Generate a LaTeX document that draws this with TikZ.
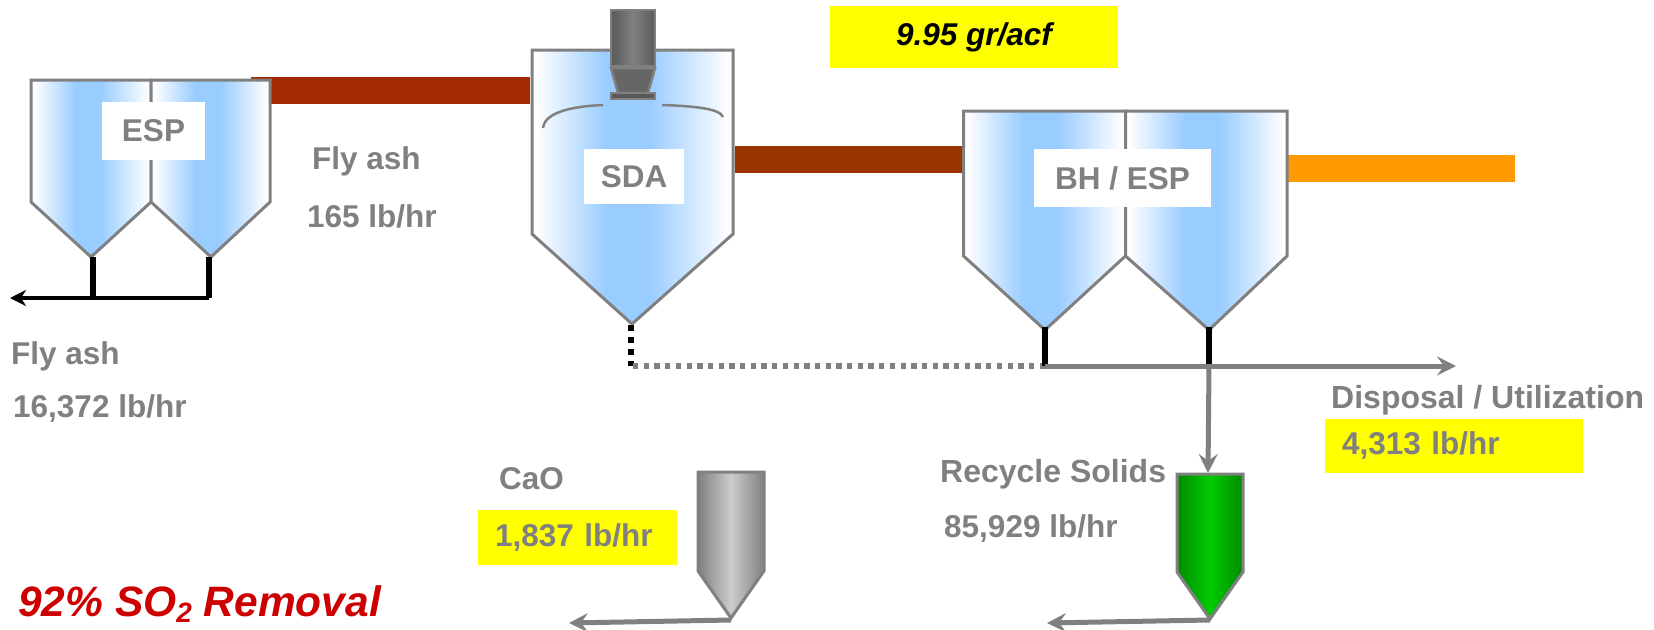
\documentclass[tikz,border=0pt]{standalone}
\usepackage{fontspec}
\setmainfont{Liberation Sans}
\usepackage{xcolor}
\usetikzlibrary{arrows.meta, positioning}
\definecolor{linegray}{HTML}{808080}
\definecolor{siloblue}{HTML}{99CCFF}
\definecolor{ductred}{HTML}{A32A00}
\definecolor{ductbrown}{HTML}{993300}
\definecolor{ductorange}{HTML}{FF9900}
\definecolor{limegreen}{HTML}{00CC00}
\definecolor{darkgreen}{HTML}{008A00}
\definecolor{redtext}{HTML}{CC0000}
\definecolor{flagyellow}{HTML}{FFFF00}
\pgfdeclarehorizontalshading{silofade}{100bp}{color(0bp)=(white); color(26bp)=(white); color(43.5bp)=(siloblue); color(54bp)=(siloblue); color(74bp)=(white); color(100bp)=(white)}

\begin{document}
\begin{tikzpicture}[x=1pt, y=-1pt,
        silo/.style={draw=linegray, line width=3pt, line join=miter, shading=silofade},
        duct/.style={line width=27pt},
        stem/.style={draw=black, line width=6pt},
        flow/.style={draw=linegray, line width=5pt, -{Stealth[length=19pt,width=19pt,inset=7pt]}},
        label/.style={anchor=base west, inner sep=0pt, text=linegray, font=\fontsize{31.5}{36}\selectfont\bfseries},
        tag/.style={fill=white, inner sep=0pt, text=linegray, font=\fontsize{31.5}{36}\selectfont\bfseries},
        flag/.style={fill=flagyellow, inner ysep=0pt, inner xsep=17pt, minimum height=54pt, align=left, text=linegray, font=\fontsize{31.5}{36}\selectfont\bfseries}]
    \useasboundingbox (0, 0) rectangle (1654, 629);

    \coordinate (duct1a) at (251, 90);
    \coordinate (duct1b) at (530, 90);
    \coordinate (duct2a) at (735, 159.5);
    \coordinate (duct2b) at (962, 159.5);
    \coordinate (duct3a) at (1288, 168.5);
    \coordinate (duct3b) at (1515, 168.5);
    \coordinate (esptipl) at (93, 257);
    \coordinate (esptipr) at (209, 257);
    \coordinate (espjoinl) at (93, 298);
    \coordinate (espjoinr) at (209, 298);
    \coordinate (espout) at (10, 298);
    \coordinate (sdatip) at (631, 325);
    \coordinate (sdacorner) at (631, 366);
    \coordinate (sdajoin) at (633, 366);
    \coordinate (bhtipl) at (1045, 327);
    \coordinate (bhtipr) at (1209, 327);
    \coordinate (bhjoinl) at (1045, 366);
    \coordinate (bhjoinr) at (1209, 366);
    \coordinate (dispout) at (1456, 366);
    \coordinate (recycle) at (1208, 473);
    \coordinate (caotip) at (731, 620);
    \coordinate (caoout) at (569, 623);
    \coordinate (greentip) at (1210, 620);
    \coordinate (greenout) at (1047, 623);

    \draw[duct, ductred] (duct1a) -- (duct1b);
    \draw[duct, ductbrown] (duct2a) -- (duct2b);
    \draw[duct, ductorange] (duct3a) -- (duct3b);

    % ESP
    \path[silo] (31, 80) -- (151, 80) -- (151, 202) -- (91, 257) -- (31, 202) -- cycle;
    \path[silo] (151, 80) -- (270, 80) -- (270, 202) -- (211, 257) -- (151, 202) -- cycle;
    % SDA
    \path[silo] (532, 50) -- (733, 50) -- (733, 234) -- (632, 324) -- (532, 234) -- cycle;
    % BH / ESP
    \path[silo] (963.5, 111) -- (1125.5, 111) -- (1125.5, 256) -- (1045, 330) -- (963.5, 256) -- cycle;
    \path[silo] (1125.5, 111) -- (1287, 111) -- (1287, 256) -- (1209, 330) -- (1125.5, 256) -- cycle;

    % nozzle
    \path[draw=linegray, line width=2.5pt, left color=black!65, right color=black!65, middle color=linegray] (611, 10) rectangle (655, 66);
    \path[draw=linegray, line width=2.5pt, fill=black!60] (611, 68) -- (655, 68) -- (648, 93) -- (618, 93) -- cycle;
    \path[draw=linegray, line width=2.5pt, fill=black!65] (611, 93) rectangle (655, 99);
    \draw[linegray, line width=2.5pt] (543, 128) .. controls (545, 110) and (580, 106) .. (603, 105);
    \draw[linegray, line width=2.5pt] (662, 105) .. controls (690, 106) and (720, 108) .. (723, 117);

    % hoppers
    \path[draw=linegray, line width=3pt, left color=linegray, right color=linegray, middle color=black!20] (698, 472) -- (764, 472) -- (764, 571) -- (731, 618) -- (698, 571) -- cycle;
    \path[draw=linegray, line width=3pt, left color=darkgreen, right color=darkgreen, middle color=limegreen] (1177, 474) -- (1243, 474) -- (1243, 572) -- (1210, 619) -- (1177, 572) -- cycle;

    % solids lines
    \draw[stem] (esptipl) -- (espjoinl);
    \draw[stem] (esptipr) -- (espjoinr);
    \draw[black, line width=4pt, -{Stealth[length=16pt,width=16pt,inset=5pt]}] (espjoinr) -- (espout);
    \draw[black, line width=6pt, dash pattern=on 6pt off 6pt] (sdatip) -- (sdacorner);
    \draw[linegray, line width=5.3pt, dash pattern=on 5.3pt off 5.4pt] (sdajoin) -- (bhjoinl);
    \draw[stem] (bhtipl) -- (bhjoinl);
    \draw[stem] (bhtipr) -- (bhjoinr);
    \draw[flow] (bhjoinl) -- (dispout);
    \draw[flow] (bhjoinr) -- (recycle);
    \draw[flow] (caotip) -- (caoout);
    \draw[flow] (greentip) -- (greenout);

    \node[tag, minimum width=103pt, minimum height=58pt] (esp) at (153.5, 131) {ESP};
    \node[tag, minimum width=100pt, minimum height=55pt] (sda) at (634, 176.5) {SDA};
    \node[tag, minimum width=177pt, minimum height=58pt] (bh) at (1122.5, 178) {BH / ESP};

    \node[label] (flyash1) at (312, 169) {Fly ash};
    \node[label] (rate1) at (307, 227) {165 lb/hr};
    \node[label] (flyash2) at (11, 364) {Fly ash};
    \node[label] (rate2) at (13, 417) {16,372 lb/hr};
    \node[label] (cao) at (499, 489) {CaO};
    \node[label, font=\fontsize{32}{36}\selectfont\bfseries] (solids) at (940, 482) {Recycle Solids};
    \node[label] (rate3) at (944, 537) {85,929 lb/hr};
    \node[label, font=\fontsize{32}{36}\selectfont\bfseries] (disposal) at (1331, 408) {Disposal / Utilization};

    \node[flag, minimum height=55pt, text width=165pt] (rate4) at (577.5, 537.5) {1,837 lb/hr};
    \node[flag, text width=224pt] (rate5) at (1454, 446) {4,313 lb/hr};
    \node[fill=flagyellow, minimum width=288pt, minimum height=62pt, inner sep=0pt, font=\fontsize{31.5}{36}\selectfont\bfseries\itshape] (grain) at (974, 37) {9.95 gr/acf};
    \node[anchor=base west, inner sep=0pt, text=redtext, font=\fontsize{42.5}{48}\selectfont\bfseries\itshape] (removal) at (18, 616) {92\% SO\raisebox{-6pt}{\fontsize{28}{30}\selectfont 2} Removal};
\end{tikzpicture}
\end{document}
